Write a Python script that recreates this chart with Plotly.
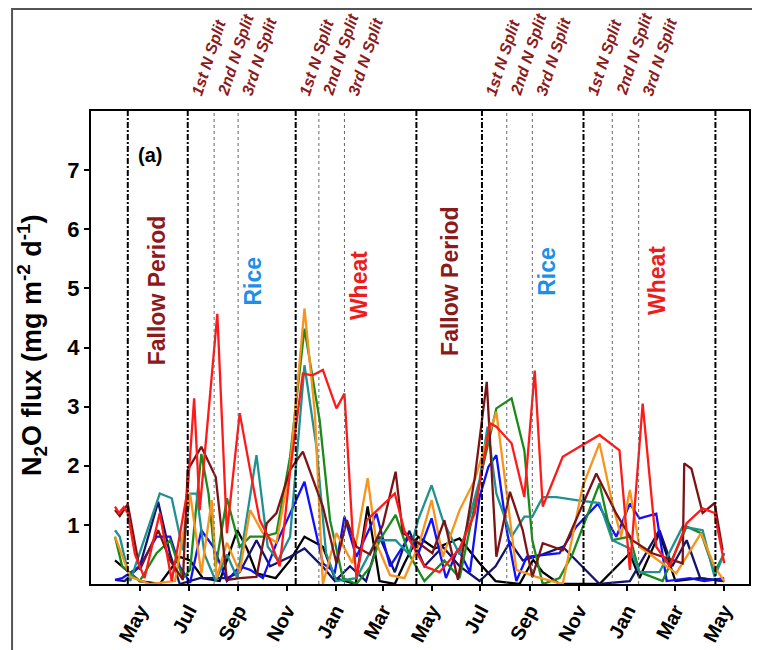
import plotly.graph_objects as go

# ---------------- axis ticks ----------------
tick_dates = ["2014-05-01", "2014-07-01", "2014-09-01", "2014-11-01", "2015-01-01",
              "2015-03-01", "2015-05-01", "2015-07-01", "2015-09-01", "2015-11-01",
              "2016-01-01", "2016-03-01", "2016-05-01"]
tick_labels = ["May", "Jul", "Sep", "Nov", "Jan", "Mar", "May", "Jul", "Sep", "Nov",
               "Jan", "Mar", "May"]
y_ticks = [1, 2, 3, 4, 5, 6, 7]

# season boundaries (dash-dot) and N split dates (thin lines)
season_bounds = ["2014-04-16", "2014-06-30", "2014-11-12", "2015-04-12",
                 "2015-07-03", "2015-11-07", "2016-04-20"]
split_lines = ["2014-08-02", "2014-09-01", "2014-12-11", "2015-01-12",
               "2015-08-03", "2015-09-04", "2015-12-13", "2016-01-15"]
split_label_dates = ["2014-06-30", "2014-08-02", "2014-09-01",
                     "2014-11-12", "2014-12-11", "2015-01-12",
                     "2015-07-03", "2015-08-03", "2015-09-04",
                     "2015-11-07", "2015-12-13", "2016-01-15"]
split_label_text = ["1st N Split", "2nd N Split", "3rd N Split"] * 4

# period labels
period_text = ["Fallow Period", "Rice", "Wheat", "Fallow Period", "Rice", "Wheat"]
period_dates = ["2014-05-23", "2014-09-20", "2015-01-31", "2015-05-24", "2015-09-23", "2016-02-06"]
period_ypos = [0.459, 0.584, 0.554, 0.478, 0.605, 0.564]
period_colors = ["#8B1A1A", "#1E8FE8", "#EE1C1C", "#8B1A1A", "#1E8FE8", "#EE1C1C"]

# ---------------- series ----------------
red_dates = ["2014-03-31", "2014-04-05", "2014-04-11", "2014-04-16", "2014-04-25", "2014-05-07",
             "2014-05-26", "2014-06-10", "2014-06-30", "2014-07-08", "2014-07-15", "2014-08-06",
             "2014-08-18", "2014-09-03", "2014-09-16", "2014-09-28", "2014-10-11", "2014-10-23",
             "2014-11-05", "2014-11-21", "2014-12-03", "2014-12-16", "2015-01-02", "2015-01-12",
             "2015-01-22", "2015-01-27", "2015-02-09", "2015-02-25", "2015-03-16", "2015-03-28",
             "2015-04-10", "2015-04-22", "2015-05-11", "2015-06-05", "2015-06-24", "2015-07-13",
             "2015-07-21", "2015-08-09", "2015-08-25", "2015-09-07", "2015-09-17", "2015-10-12",
             "2015-11-02", "2015-11-27", "2015-12-22", "2016-01-04", "2016-01-20", "2016-02-06",
             "2016-02-23", "2016-03-15", "2016-04-04", "2016-04-19", "2016-05-01"]
red_flux = [1.31, 1.2, 1.3, 1.2, 0.5, 0.1, 1.2, 0.05, 1.6, 3.14, 1.25, 4.57,
            0.86, 2.89, 1.93, 1.08, 0.74, 0.3, 1.9, 3.56, 3.53, 3.62, 2.97, 3.22,
            0.91, 0.1, 1.08, 1.28, 1.53, 0.9, 0.6, 0.3, 0.2, 0.6, 1.2, 2.72,
            2.66, 2.38, 1.47, 3.61, 1.31, 2.15, 2.32, 2.52, 2.26, 0.24, 3.05, 0.63,
            0.3, 1.03, 1.28, 1.2, 0.35]

maroon_dates = ["2014-03-31", "2014-04-06", "2014-04-16", "2014-05-01", "2014-05-24", "2014-06-08",
                "2014-06-24", "2014-06-30", "2014-07-17", "2014-08-04", "2014-08-18", "2014-09-03",
                "2014-09-24", "2014-10-07", "2014-10-19", "2014-11-05", "2014-11-21", "2014-12-16",
                "2015-01-02", "2015-01-15", "2015-01-27", "2015-02-13", "2015-03-01", "2015-03-17",
                "2015-03-26", "2015-04-10", "2015-05-02", "2015-05-17", "2015-06-03", "2015-06-24",
                "2015-07-09", "2015-07-21", "2015-08-07", "2015-08-23", "2015-09-04", "2015-09-17",
                "2015-10-12", "2015-11-23", "2015-12-18", "2016-01-07", "2016-02-01", "2016-03-10",
                "2016-03-12", "2016-03-21", "2016-04-04", "2016-04-19", "2016-04-29"]
maroon_flux = [1.25, 1.15, 1.35, 0.24, 0.91, 0.4, 0.07, 1.93, 2.32, 1.81, 0.07, 0.1,
               0.12, 1.03, 1.2, 1.93, 2.24, 1.31, 0.35, 1.08, 0.63, 0.5, 1.0, 1.9,
               0.86, 0.74, 0.52, 1.08, 0.07, 1.8, 3.42, 0.46, 1.56, 0.91, 0.12, 0.69,
               0.57, 1.87, 1.19, 0.74, 0.52, 0.35, 2.04, 1.95, 1.2, 1.37, 0.57]

orange_dates = ["2014-03-31", "2014-04-19", "2014-05-14", "2014-06-14", "2014-07-03", "2014-07-17",
                "2014-07-30", "2014-08-05", "2014-08-18", "2014-09-03", "2014-09-16", "2014-10-02",
                "2014-10-19", "2014-11-05", "2014-11-23", "2014-12-06", "2014-12-16", "2015-01-02",
                "2015-01-22", "2015-02-10", "2015-02-21", "2015-03-10", "2015-03-28", "2015-04-16",
                "2015-05-01", "2015-05-15", "2015-06-05", "2015-06-24", "2015-07-09", "2015-07-21",
                "2015-08-03", "2015-08-15", "2015-09-09", "2015-10-12", "2015-11-06", "2015-11-27",
                "2015-12-13", "2015-12-24", "2016-01-04", "2016-01-16", "2016-03-02", "2016-04-02",
                "2016-04-19", "2016-05-01"]
orange_flux = [0.8, 0.12, 0.0, 0.05, 1.53, 0.18, 1.42, 0.1, 0.7, 0.2, 1.25, 0.86,
               0.7, 1.98, 4.66, 2.89, 0.0, 0.86, 0.35, 1.79, 0.69, 0.15, 0.1, 0.7,
               1.42, 0.46, 1.25, 1.76, 2.43, 2.91, 1.53, 0.24, 0.12, 0.0, 1.65, 2.38,
               1.37, 0.8, 1.59, 0.63, 0.18, 0.86, 0.29, 0.05]

green_dates = ["2014-03-31", "2014-04-09", "2014-05-01", "2014-05-22", "2014-06-08", "2014-06-24",
               "2014-07-03", "2014-07-17", "2014-07-26", "2014-08-04", "2014-08-18", "2014-09-03",
               "2014-09-16", "2014-10-02", "2014-10-19", "2014-11-05", "2014-11-23", "2014-12-12",
               "2014-12-25", "2015-01-10", "2015-01-27", "2015-02-14", "2015-02-25", "2015-03-17",
               "2015-04-03", "2015-04-22", "2015-05-17", "2015-06-05", "2015-07-04", "2015-07-21",
               "2015-08-09", "2015-08-25", "2015-09-04", "2015-09-17", "2015-10-08", "2015-10-24",
               "2015-11-27", "2015-12-13", "2016-01-04", "2016-01-16", "2016-02-14", "2016-03-15",
               "2016-04-02", "2016-04-19", "2016-05-01"]
green_flux = [0.8, 0.3, 0.05, 0.52, 0.74, 0.1, 0.24, 2.2, 1.53, 0.29, 1.45, 0.63,
              0.8, 0.8, 0.86, 2.15, 4.32, 2.77, 1.08, 0.1, 0.0, 0.3, 0.74, 1.17,
              0.5, 0.05, 0.4, 0.1, 1.98, 2.97, 3.14, 2.26, 0.74, 0.0, 0.1, 0.5,
              1.7, 0.74, 0.8, 0.2, 0.05, 0.97, 0.86, 0.2, 0.52]

teal_dates = ["2014-03-31", "2014-04-06", "2014-04-19", "2014-05-26", "2014-06-10", "2014-06-24",
              "2014-07-03", "2014-07-11", "2014-07-21", "2014-08-04", "2014-08-18", "2014-08-31",
              "2014-09-24", "2014-10-08", "2014-10-21", "2014-11-05", "2014-11-23", "2014-12-08",
              "2014-12-20", "2015-01-02", "2015-01-27", "2015-02-21", "2015-03-17", "2015-04-03",
              "2015-04-14", "2015-05-01", "2015-05-15", "2015-06-05", "2015-06-30", "2015-07-10",
              "2015-07-21", "2015-08-09", "2015-08-25", "2015-09-04", "2015-09-17", "2015-10-04",
              "2015-10-29", "2015-11-27", "2015-12-13", "2016-01-04", "2016-01-16", "2016-02-10",
              "2016-03-10", "2016-04-04", "2016-04-19", "2016-05-01"]
teal_flux = [0.91, 0.8, 0.05, 1.53, 1.45, 0.57, 1.53, 1.53, 0.5, 0.05, 0.5, 0.1,
             2.18, 0.63, 0.4, 0.8, 3.7, 2.32, 0.52, 0.05, 0.1, 0.74, 0.74, 0.5,
             1.08, 1.67, 1.08, 0.5, 1.76, 2.66, 1.53, 0.8, 1.14, 1.14, 1.47, 1.47,
             1.42, 1.37, 0.74, 0.6, 0.2, 0.2, 0.97, 0.91, 0.12, 0.52]

blue_dates = ["2014-03-31", "2014-04-09", "2014-05-01", "2014-05-22", "2014-06-08", "2014-06-20",
              "2014-07-03", "2014-07-17", "2014-08-01", "2014-08-18", "2014-09-03", "2014-09-16",
              "2014-10-02", "2014-10-19", "2014-11-05", "2014-11-23", "2014-12-16", "2014-12-31",
              "2015-01-12", "2015-01-27", "2015-02-21", "2015-03-10", "2015-04-03", "2015-04-14",
              "2015-05-01", "2015-05-19", "2015-06-03", "2015-06-18", "2015-06-30", "2015-07-11",
              "2015-07-21", "2015-08-03", "2015-08-15", "2015-08-28", "2015-10-08", "2015-10-29",
              "2015-11-25", "2015-12-18", "2016-01-04", "2016-01-16", "2016-02-06", "2016-02-19",
              "2016-03-19", "2016-04-06", "2016-05-01"]
blue_flux = [0.07, 0.1, 0.3, 0.8, 0.8, 0.3, 0.02, 0.91, 0.63, 0.05, 0.3, 0.24,
             0.1, 0.69, 1.19, 1.73, 0.35, 0.2, 1.14, 0.46, 1.19, 0.3, 0.8, 0.5,
             1.11, 0.1, 0.6, 0.2, 1.47, 1.98, 2.18, 0.91, 0.05, 0.46, 0.52, 0.97,
             1.36, 0.8, 1.36, 1.11, 1.19, 0.05, 0.1, 0.05, 0.1]

navy_dates = ["2014-03-31", "2014-04-12", "2014-05-01", "2014-05-24", "2014-06-08", "2014-06-20",
              "2014-07-15", "2014-08-18", "2014-09-03", "2014-09-24", "2014-10-11", "2014-11-05",
              "2014-11-23", "2014-12-16", "2014-12-31", "2015-01-19", "2015-02-08", "2015-02-25",
              "2015-03-16", "2015-04-03", "2015-04-22", "2015-05-15", "2015-06-05", "2015-06-30",
              "2015-07-20", "2015-08-07", "2015-08-23", "2015-09-17", "2015-10-12", "2015-11-27",
              "2016-01-04", "2016-02-10", "2016-02-26", "2016-03-15", "2016-04-01", "2016-05-01"]
navy_flux = [0.07, 0.05, 0.3, 1.39, 0.5, 0.0, 0.1, 0.1, 0.2, 0.74, 0.3, 0.46,
             0.6, 0.29, 0.05, 0.3, 0.05, 0.8, 0.2, 0.9, 0.3, 0.63, 0.3, 0.05,
             0.3, 0.71, 0.4, 0.5, 0.63, 0.0, 0.05, 0.91, 0.3, 0.74, 0.1, 0.05]

black_dates = ["2014-03-31", "2014-05-01", "2014-05-26", "2014-06-20", "2014-07-03", "2014-07-19",
               "2014-08-09", "2014-08-31", "2014-09-12", "2014-09-24", "2014-10-18", "2014-11-05",
               "2014-11-23", "2014-12-16", "2014-12-31", "2015-01-26", "2015-02-10", "2015-02-25",
               "2015-03-16", "2015-03-28", "2015-04-14", "2015-05-05", "2015-06-05", "2015-06-30",
               "2015-07-20", "2015-08-19", "2015-09-05", "2015-09-17", "2015-10-08", "2015-11-27",
               "2016-01-04", "2016-01-16", "2016-02-10", "2016-03-01", "2016-03-31", "2016-05-01"]
black_flux = [0.4, 0.05, 0.0, 0.46, 0.4, 0.1, 0.05, 0.91, 0.6, 0.18, 0.1, 0.4,
              0.8, 0.63, 0.1, 0.0, 1.31, 0.05, 0.0, 0.35, 0.8, 0.6, 0.77, 0.35,
              0.05, 0.0, 0.41, 0.2, 0.0, 0.0, 0.52, 0.1, 0.86, 0.05, 0.1, 0.05]

series = [
    (black_dates, black_flux, "#000000"),
    (navy_dates, navy_flux, "#14146E"),
    (blue_dates, blue_flux, "#1010FF"),
    (green_dates, green_flux, "#1A8A1A"),
    (teal_dates, teal_flux, "#1F9191"),
    (orange_dates, orange_flux, "#F7941D"),
    (maroon_dates, maroon_flux, "#7B1416"),
    (red_dates, red_flux, "#FF1A1A"),
]

FONT = "Liberation Sans, Arial, sans-serif"

fig = go.Figure()
for d, v, c in series:
    fig.add_trace(go.Scatter(x=d, y=v, mode="lines", line=dict(color=c, width=2.3),
                             showlegend=False, hoverinfo="skip"))

shapes = []
for d in season_bounds:
    shapes.append(dict(type="line", xref="x", yref="paper", x0=d, x1=d, y0=0, y1=1,
                       line=dict(color="black", width=2, dash="6px,2px,2px,2px")))
for d in split_lines:
    shapes.append(dict(type="line", xref="x", yref="paper", x0=d, x1=d, y0=0, y1=1,
                       line=dict(color="#666666", width=1, dash="dot")))
# outer frame of the figure panel
shapes.append(dict(type="rect", xref="paper", yref="paper", x0=-0.120, x1=1.0076,
                   y0=-0.3, y1=1.2156, line=dict(color="#555555", width=2)))

annotations = []
for d, t in zip(split_label_dates, split_label_text):
    annotations.append(dict(x=d, xref="x", y=1.023, yref="paper", text="<b><i>%s</i></b>" % t,
                            textangle=-72, showarrow=False, xanchor="left", yanchor="bottom",
                            xshift=-2, font=dict(family=FONT, size=16, color="#8B1A1A")))
for t, d, yy, c in zip(period_text, period_dates, period_ypos, period_colors):
    annotations.append(dict(x=d, xref="x", y=yy, yref="paper", text="<b>%s</b>" % t,
                            textangle=-90, showarrow=False, xanchor="center", yanchor="bottom",
                            font=dict(family=FONT, size=23, color=c)))
annotations.append(dict(x=0.068, xref="paper", y=0.907, yref="paper", text="<b>(a)</b>",
                        showarrow=False, xanchor="left", yanchor="middle",
                        font=dict(family=FONT, size=20, color="black")))
annotations.append(dict(x=-0.0897, xref="paper", y=0.505, yref="paper",
                        text="<b>N<sub>2</sub>O flux (mg m<sup>-2</sup> d<sup>-1</sup>)</b>",
                        textangle=-90, showarrow=False, xanchor="center", yanchor="middle",
                        font=dict(family=FONT, size=27, color="black")))

# page body adds an 8px offset, so the figure is 752x642 placed at (8, 8)
fig.update_layout(
    width=752, height=642,
    margin=dict(l=83, r=11, t=103, b=66, autoexpand=False),
    paper_bgcolor="white", plot_bgcolor="white",
    shapes=shapes, annotations=annotations,
    font=dict(family=FONT, color="black"),
)
fig.update_xaxes(type="date", range=["2014-03-01", "2016-06-01"], tickmode="array",
                 tickvals=tick_dates, ticktext=["<b>%s</b>" % t for t in tick_labels],
                 tickangle=-62, tickfont=dict(family=FONT, size=20, color="black"),
                 showline=True, linecolor="black", linewidth=2, mirror=True,
                 ticks="outside", ticklen=5, tickwidth=2, tickcolor="black",
                 showgrid=False, zeroline=False, automargin=False)
fig.update_yaxes(range=[0, 8], tickmode="array", tickvals=y_ticks,
                 ticktext=["<b>%d</b>" % v for v in y_ticks],
                 tickfont=dict(family=FONT, size=22, color="black"),
                 showline=True, linecolor="black", linewidth=2, mirror=True,
                 ticks="outside", ticklen=5, tickwidth=2, tickcolor="black",
                 showgrid=False, zeroline=False, automargin=False)

fig.write_html("out.html")
